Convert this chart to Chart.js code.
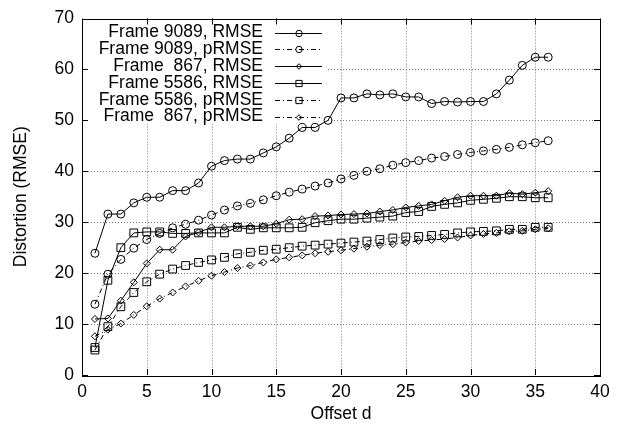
<!DOCTYPE html>
<html>
<head>
<meta charset="utf-8">
<script src="https://cdn.jsdelivr.net/npm/chart.js@4.4.1/dist/chart.umd.min.js"></script>
<style>
  html, body { margin: 0; padding: 0; background: #fff; }
  #wrap { width: 617px; height: 428px; }
</style>
</head>
<body>
<div id="wrap"><canvas id="distChart" width="617" height="428"></canvas></div>
<script>
// offsets d on the x axis
const offsets = [1, 2, 3, 4, 5, 6, 7, 8, 9, 10, 11, 12, 13, 14, 15, 16, 17, 18,
  19, 20, 21, 22, 23, 24, 25, 26, 27, 28, 29, 30, 31, 32, 33, 34, 35, 36];

const rmse9089 = [23.9, 31.6, 31.6, 33.8, 34.9, 34.9, 36.2, 36.2, 37.7, 41.0, 42.1, 42.4,
  42.4, 43.6, 44.8, 46.5, 48.6, 48.6, 50.0, 54.4, 54.4, 55.2, 55.0, 55.2,
  54.6, 54.6, 53.3, 53.7, 53.6, 53.7, 53.7, 55.2, 57.9, 60.8, 62.4, 62.4];
const prmse9089 = [13.9, 19.8, 22.7, 24.9, 26.6, 27.8, 28.9, 29.6, 30.4, 31.4, 32.4, 33.2,
  33.7, 34.4, 35.2, 35.9, 36.5, 37.1, 37.7, 38.5, 39.2, 40.0, 40.5, 41.2,
  41.7, 42.1, 42.6, 42.9, 43.3, 43.7, 44.0, 44.3, 44.7, 45.2, 45.6, 46.0];
const rmse867 = [11.0, 11.1, 14.6, 18.2, 21.9, 24.6, 24.6, 27.2, 28.0, 29.0, 29.0, 29.2,
  29.2, 29.2, 29.7, 30.5, 30.6, 31.2, 31.3, 31.5, 31.6, 31.7, 32.1, 32.4,
  32.9, 33.2, 33.5, 34.2, 34.9, 35.2, 35.2, 35.2, 35.7, 35.5, 35.8, 36.1];
const rmse5586 = [5.4, 18.6, 25.0, 27.9, 28.1, 28.1, 27.8, 27.8, 27.9, 27.9, 27.9, 29.0,
  28.6, 28.9, 28.9, 28.9, 29.0, 29.9, 30.3, 30.6, 30.6, 30.8, 31.0, 31.2,
  31.9, 32.1, 33.1, 33.5, 33.8, 34.3, 34.5, 34.7, 35.0, 35.0, 34.8, 34.8];
const prmse5586 = [4.9, 9.5, 13.4, 16.2, 18.3, 19.8, 20.8, 21.5, 22.1, 22.6, 23.1, 23.8,
  24.1, 24.5, 24.7, 25.0, 25.3, 25.5, 25.7, 25.9, 26.1, 26.3, 26.6, 26.9,
  27.1, 27.2, 27.4, 27.6, 27.9, 28.1, 28.2, 28.3, 28.6, 28.6, 29.0, 29.0];
const prmse867 = [7.6, 8.9, 10.1, 11.8, 13.5, 15.0, 16.2, 17.4, 18.5, 19.5, 20.2, 21.0,
  21.5, 22.1, 22.7, 23.1, 23.5, 23.9, 24.2, 24.5, 24.8, 25.2, 25.5, 25.7,
  26.0, 26.3, 26.5, 26.7, 27.0, 27.4, 27.7, 27.9, 28.2, 28.3, 28.6, 28.8];

const seriesNames = ["Frame 9089, RMSE", "Frame 9089, pRMSE", "Frame  867, RMSE",
  "Frame 5586, RMSE", "Frame 5586, pRMSE", "Frame  867, pRMSE"];
const xTicks = [0, 5, 10, 15, 20, 25, 30, 35, 40];
const yTicks = [0, 10, 20, 30, 40, 50, 60, 70];

const FONT = '"Liberation Sans", Arial, sans-serif';
const FSIZE = 17.5;
const dashDot = [5, 3, 1, 3];

function pts(vals) {
  return offsets.map((d, i) => ({ x: d, y: vals[i] }));
}

function series(label, vals, style, radius, dashed) {
  return {
    label: label,
    data: pts(vals),
    borderColor: "#000",
    borderWidth: 1,
    borderDash: dashed ? dashDot : [],
    backgroundColor: "rgba(0,0,0,0)",
    pointStyle: style,
    pointRadius: radius,
    pointBorderColor: "#000",
    pointBackgroundColor: "rgba(0,0,0,0)",
    pointBorderWidth: 1,
    tension: 0,
    fill: false
  };
}

// grid, frame and inward ticks the gnuplot way
const framePlugin = {
  id: "frame",
  beforeDatasetsDraw(chart) {
    const { ctx, chartArea: a, scales } = chart;
    ctx.save();
    ctx.strokeStyle = "#777";
    ctx.lineWidth = 1;
    ctx.setLineDash([1, 2]);
    xTicks.forEach(v => {
      if (v === 0 || v === 40) return;
      const x = Math.round(scales.x.getPixelForValue(v)) + 0.5;
      ctx.beginPath(); ctx.moveTo(x, a.top); ctx.lineTo(x, a.bottom); ctx.stroke();
    });
    yTicks.forEach(v => {
      if (v === 0 || v === 70) return;
      const y = Math.round(scales.y.getPixelForValue(v)) + 0.5;
      ctx.beginPath(); ctx.moveTo(a.left, y); ctx.lineTo(a.right, y); ctx.stroke();
    });
    // key area is kept clear of grid
    ctx.fillStyle = "#fff";
    ctx.fillRect(a.left + 1, a.top + 1, 244, 104);
    ctx.restore();
  },
  afterDatasetsDraw(chart) {
    const { ctx, chartArea: a, scales } = chart;
    ctx.save();

    ctx.font = FSIZE + "px " + FONT;
    ctx.textAlign = "right";
    ctx.textBaseline = "middle";
    chart.data.datasets.forEach((ds, i) => {
      const y = a.top + 14 + i * 16.8;
      ctx.fillStyle = "#000";
      ctx.fillText(ds.label, 263, y);
      ctx.strokeStyle = "#000";
      ctx.lineWidth = 1;
      ctx.setLineDash(ds.borderDash);
      const ly = Math.round(y) + 0.5;
      ctx.beginPath(); ctx.moveTo(275, ly); ctx.lineTo(322, ly); ctx.stroke();
      ctx.setLineDash([]);
      ctx.fillStyle = "rgba(0,0,0,0)";
      Chart.helpers.drawPoint(ctx, {
        pointStyle: ds.pointStyle, radius: ds.pointRadius * 0.8, rotation: 0, borderWidth: 1
      }, 299, ly);
    });

    // frame
    ctx.setLineDash([]);
    ctx.strokeStyle = "#000";
    ctx.lineWidth = 1;
    ctx.strokeRect(Math.round(a.left) + 0.5, Math.round(a.top) + 0.5,
      Math.round(a.right - a.left), Math.round(a.bottom - a.top));

    // inward ticks on all four sides
    const tl = 6;
    xTicks.forEach(v => {
      const x = Math.round(scales.x.getPixelForValue(v)) + 0.5;
      ctx.beginPath();
      ctx.moveTo(x, a.bottom); ctx.lineTo(x, a.bottom - tl);
      ctx.moveTo(x, a.top); ctx.lineTo(x, a.top + tl);
      ctx.stroke();
    });
    yTicks.forEach(v => {
      const y = Math.round(scales.y.getPixelForValue(v)) + 0.5;
      ctx.beginPath();
      ctx.moveTo(a.left, y); ctx.lineTo(a.left + tl, y);
      ctx.moveTo(a.right, y); ctx.lineTo(a.right - tl, y);
      ctx.stroke();
    });
    ctx.restore();
  }
};

const ctx = document.getElementById("distChart").getContext("2d");
const chart = new Chart(ctx, {
  type: "line",
  data: {
    datasets: [
      series(seriesNames[0], rmse9089, "circle", 4, false),
      series(seriesNames[1], prmse9089, "circle", 4, true),
      series(seriesNames[2], rmse867, "rectRot", 3.5, false),
      series(seriesNames[3], rmse5586, "rect", 5.5, false),
      series(seriesNames[4], prmse5586, "rect", 5.5, true),
      series(seriesNames[5], prmse867, "rectRot", 3.5, true)
    ]
  },
  options: {
    responsive: false,
    animation: false,
    devicePixelRatio: 1,
    layout: { padding: { left: 0, right: 17, top: 14, bottom: 0 } },
    plugins: {
      legend: { display: false },
      tooltip: { enabled: false }
    },
    scales: {
      x: {
        type: "linear",
        min: 0,
        max: 40,
        afterFit(scale) { scale.height = 53; },
        afterBuildTicks(scale) { scale.ticks = xTicks.map(v => ({ value: v })); },
        grid: { display: false, drawTicks: false },
        border: { display: false },
        ticks: { color: "#000", padding: 7, font: { family: FONT, size: FSIZE } },
        title: {
          display: true, text: "Offset d", color: "#000",
          padding: { top: 0, bottom: 3 }, font: { family: FONT, size: FSIZE }
        }
      },
      y: {
        type: "linear",
        min: 0,
        max: 70,
        afterFit(scale) { scale.width = 82; },
        afterBuildTicks(scale) { scale.ticks = yTicks.map(v => ({ value: v })); },
        grid: { display: false, drawTicks: false },
        border: { display: false },
        ticks: { color: "#000", padding: 8, font: { family: FONT, size: FSIZE } },
        title: {
          display: true, text: "Distortion (RMSE)", color: "#000",
          padding: { top: 11, bottom: 0 }, font: { family: FONT, size: FSIZE }
        }
      }
    }
  },
  plugins: [framePlugin]
});
</script>
</body>
</html>
